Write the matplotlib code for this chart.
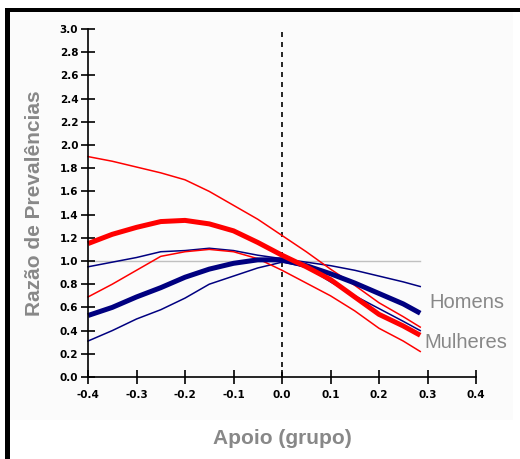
import matplotlib.pyplot as plt
from matplotlib.patches import Rectangle

# apoio (grupo) values
x = [-0.4, -0.35, -0.3, -0.25, -0.2, -0.15, -0.1, -0.05, 0.0, 0.05, 0.1, 0.15, 0.2, 0.25, 0.285]

# mulheres - razao de prevalencias and confidence band
mulheres = [1.15, 1.23, 1.29, 1.34, 1.35, 1.32, 1.26, 1.16, 1.05, 0.95, 0.84, 0.69, 0.54, 0.44, 0.36]
mulheres_sup = [1.90, 1.86, 1.81, 1.76, 1.70, 1.60, 1.48, 1.36, 1.22, 1.08, 0.93, 0.79, 0.64, 0.52, 0.43]
mulheres_inf = [0.69, 0.80, 0.92, 1.04, 1.08, 1.10, 1.08, 1.02, 0.92, 0.81, 0.70, 0.57, 0.42, 0.31, 0.22]

# homens
homens = [0.53, 0.60, 0.69, 0.77, 0.86, 0.93, 0.98, 1.01, 1.01, 0.96, 0.89, 0.81, 0.72, 0.63, 0.55]
homens_sup = [0.95, 0.99, 1.03, 1.08, 1.09, 1.11, 1.09, 1.05, 1.02, 0.99, 0.96, 0.92, 0.87, 0.82, 0.78]
homens_inf = [0.31, 0.40, 0.50, 0.58, 0.68, 0.80, 0.87, 0.94, 0.99, 0.95, 0.82, 0.70, 0.59, 0.48, 0.40]

xticks = [-0.4, -0.3, -0.2, -0.1, 0.0, 0.1, 0.2, 0.3, 0.4]
xtick_labels = ['-0.4', '-0.3', '-0.2', '-0.1', '0.0', '0.1', '0.2', '0.3', '0.4']
yticks = [0.0, 0.2, 0.4, 0.6, 0.8, 1.0, 1.2, 1.4, 1.6, 1.8, 2.0, 2.2, 2.4, 2.6, 2.8, 3.0]

grey = '#888888'

fig = plt.figure(figsize=(5.2, 4.59), dpi=100)
W, H = 520.0, 459.0

# panel background and black frame (top + left)
fig.patches.append(Rectangle((10/W, 1-420/H), 503/W, 408/H, transform=fig.transFigure,
                             facecolor='#fbfbfb', edgecolor='none', zorder=-10))
fig.patches.append(Rectangle((5/W, 1-12/H), 515/W, 4/H, transform=fig.transFigure,
                             facecolor='black', edgecolor='none', zorder=1))
fig.patches.append(Rectangle((5/W, 0), 5/W, 1-8/H, transform=fig.transFigure,
                             facecolor='black', edgecolor='none', zorder=1))

ax = fig.add_axes([88/W, 1-377/H, 388/W, 348/H])
ax.patch.set_alpha(0)

ax.plot([x[0], x[-1]], [1.0, 1.0], color='#c0c0c0', lw=1.0, zorder=1)
ax.plot([0, 0], [0, 2.97], color='black', lw=1.2, ls=(0, (3, 3)), zorder=1)

ax.plot(x, homens_sup, color='#000080', lw=1.1, clip_on=False)
ax.plot(x, homens_inf, color='#000080', lw=1.1, clip_on=False)
ax.plot(x, mulheres_sup, color='#ff0000', lw=1.1, clip_on=False)
ax.plot(x, mulheres_inf, color='#ff0000', lw=1.1, clip_on=False)
ax.plot(x, homens, color='#000080', lw=3.6, clip_on=False, solid_capstyle='butt')
ax.plot(x, mulheres, color='#ff0000', lw=3.6, clip_on=False, solid_capstyle='butt')

ax.text(x[-1] + 0.018, 0.64, 'Homens', color=grey, fontsize=14.5, va='center', ha='left',
        family='Liberation Sans')
ax.text(x[-1] + 0.008, 0.30, 'Mulheres', color=grey, fontsize=14.5, va='center', ha='left',
        family='Liberation Sans')

ax.set_xlim(-0.4, 0.4)
ax.set_ylim(0, 3.0)
ax.spines['top'].set_visible(False)
ax.spines['right'].set_visible(False)
ax.spines['left'].set_linewidth(1.2)
ax.spines['bottom'].set_linewidth(1.2)
ax.set_xticks(xticks)
ax.set_xticklabels(xtick_labels)
ax.set_yticks(yticks)
ax.set_yticklabels(['%.1f' % v for v in yticks])
ax.tick_params(direction='inout', length=10, width=1.2, labelsize=7.5, pad=2)
ax.tick_params(axis='x', pad=4)
for lab in ax.get_xticklabels() + ax.get_yticklabels():
    lab.set_fontweight('bold')

ax.set_xlabel('Apoio (grupo)', color=grey, fontsize=15, fontweight='bold',
              family='Liberation Sans', labelpad=21)
ax.set_ylabel('Razão de Prevalências', color=grey, fontsize=15, fontweight='bold',
              family='Liberation Sans', labelpad=11)

fig.savefig('out.png', dpi=100)
